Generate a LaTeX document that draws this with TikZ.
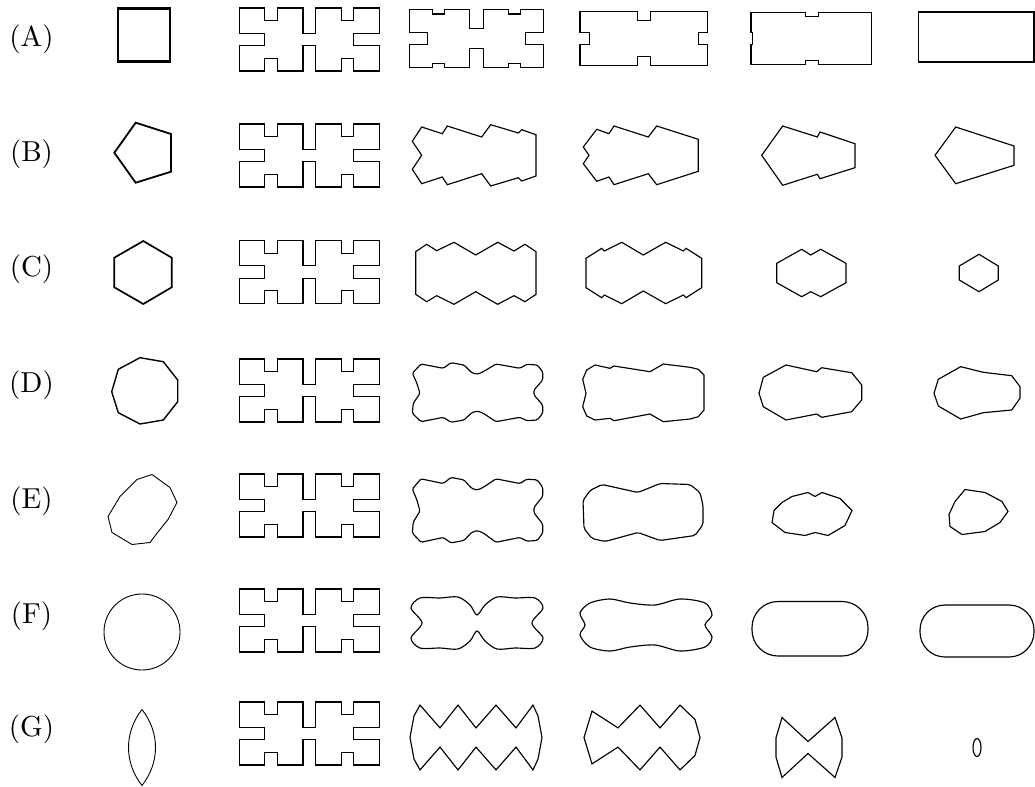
\documentclass[tikz,border=0pt]{standalone}
\begin{document}
\begin{tikzpicture}[
  x=1bp, y=-1bp,
  outline/.style={draw, line width=1.15bp},
  wulff/.style={draw, line width=#1},
  lbl/.style={scale=2.9, transform shape, inner sep=0pt},
  notched/.pic={
    \draw[outline, xscale=12.73, yscale=12.6] (0,0) -- (2,0) -- (2,1) -- (3,1) -- (3,0) -- (5,0) -- (5,2) -- (6,2) -- (6,0) -- (8,0) -- (8,1) -- (9,1) -- (9,0) -- (11,0) -- (11,2) -- (9,2) -- (9,3) -- (11,3) -- (11,5) -- (9,5) -- (9,4) -- (8,4) -- (8,5) -- (6,5) -- (6,3) -- (5,3) -- (5,5) -- (3,5) -- (3,4) -- (2,4) -- (2,5) -- (0,5) -- (0,3) -- (2,3) -- (2,2) -- (0,2) -- cycle;
  }
]
\useasboundingbox (0,0) rectangle (1035,787);

\node[lbl] (labA) at (31.5,39) {(A)};
\node[lbl] (labB) at (31.5,154) {(B)};
\node[lbl] (labC) at (31.5,269) {(C)};
\node[lbl] (labD) at (31.5,385) {(D)};
\node[lbl] (labE) at (31.5,501) {(E)};
\node[lbl] (labF) at (31.5,616) {(F)};
\node[lbl] (labG) at (31.5,729) {(G)};

\pic at (239.3,8) {notched};
\pic at (239.3,124) {notched};
\pic at (239.3,240.5) {notched};
\pic at (239.3,359) {notched};
\pic at (239.3,474) {notched};
\pic at (239.3,589) {notched};
\pic at (239.3,702) {notched};

% row A
\draw[wulff=2.3bp] (117.7,8.5) rectangle (170,61.5);
\begin{scope}[shift={(0,4)}]
\draw[outline] (409.3,5.7) -- (432.3,5.7) -- (432.3,10) -- (444.3,10) -- (444.3,5.7) -- (469.3,5.7) -- (469.3,24.2) -- (483.3,24.2) -- (483.3,5.7) -- (508.3,5.7) -- (508.3,10) -- (520.3,10) -- (520.3,5.7) -- (543.3,5.7) -- (543.3,28.2) -- (525.3,28.2) -- (525.3,40.9) -- (543.3,40.9) -- (543.3,63.4) -- (520.3,63.4) -- (520.3,59.1) -- (508.3,59.1) -- (508.3,63.4) -- (483.3,63.4) -- (483.3,44.9) -- (469.3,44.9) -- (469.3,63.4) -- (444.3,63.4) -- (444.3,59.1) -- (432.3,59.1) -- (432.3,63.4) -- (409.3,63.4) -- (409.3,40.9) -- (427.3,40.9) -- (427.3,28.2) -- (409.3,28.2) -- cycle;
\draw[outline] (580,7.3) -- (637.5,7.3) -- (637.5,16.7) -- (650.2,16.7) -- (650.2,7.3) -- (707.7,7.3) -- (707.7,28.5) -- (698.3,28.5) -- (698.3,40.5) -- (707.7,40.5) -- (707.7,61.7) -- (650.2,61.7) -- (650.2,52.3) -- (637.5,52.3) -- (637.5,61.7) -- (580,61.7) -- (580,40.5) -- (589.4,40.5) -- (589.4,28.5) -- (580,28.5) -- cycle;
\draw[outline] (751,8.3) -- (805.7,8.3) -- (805.7,12.7) -- (818.3,12.7) -- (818.3,8.3) -- (871.7,8.3) -- (871.7,60.7) -- (818.3,60.7) -- (818.3,56.3) -- (805.7,56.3) -- (805.7,60.7) -- (751,60.7) -- (751,40.5) -- (752.7,40.5) -- (752.7,28.5) -- (751,28.5) -- cycle;
\draw[outline] (918.3,8) rectangle (1034,58);
\end{scope}

% row B
\draw[wulff=1.8bp] (135.7,122.7) -- (171,134) -- (171,171.7) -- (135.7,182.7) -- (114.3,152.7) -- cycle;
\begin{scope}[shift={(0,2)}]
\draw[outline] (421.7,125) -- (442.3,131.7) -- (447.3,124) -- (481.7,135) -- (490.7,122.7) -- (518.3,131) -- (521.7,127.7) -- (536,132.7) -- (536,174) -- (521.7,179) -- (518.3,175.7) -- (490.7,184) -- (481.7,171.7) -- (447.3,182.7) -- (442.3,175) -- (421.7,181.7) -- (412.3,167.3) -- (421.7,153.3) -- (412.3,139.3) -- cycle;
\draw[outline] (596.7,127.3) -- (609,131.7) -- (614,124) -- (648.3,135) -- (656.7,124) -- (698.3,137.3) -- (698.3,169.3) -- (656.7,182.7) -- (648.3,171.7) -- (614,182.7) -- (609,175) -- (596.7,179.3) -- (583.3,161.7) -- (589,153.3) -- (583.3,145) -- cycle;
\draw[outline] (782.7,124) -- (817.3,135) -- (820,130) -- (855,141.7) -- (855,165.7) -- (820,176.7) -- (817.3,172.3) -- (782.7,183.3) -- (761.7,153.3) -- cycle;
\draw[outline] (955.7,125) -- (1014,144) -- (1014,163.3) -- (955.7,181.7) -- (935,153.3) -- cycle;
\end{scope}

% row C
\draw[wulff=1.7bp] (143.3,241) -- (171.7,257.7) -- (171.7,287.3) -- (143.3,304) -- (114.3,287.3) -- (114.3,257.7) -- cycle;
\draw[outline] (415.7,251.7) -- (426.7,244.3) -- (436.7,250.7) -- (454,242.3) -- (475.7,255) -- (497.7,242.3) -- (514,251) -- (525,244.3) -- (536,251.7) -- (536,294.3) -- (525,301.7) -- (514,295.7) -- (497.7,304.3) -- (475.7,291.7) -- (454,304.3) -- (436.7,295.7) -- (426.7,301.7) -- (415.7,294.3) -- cycle;
\draw[outline] (586,258.3) -- (601.7,248.3) -- (604.3,251) -- (621.7,242.3) -- (643.3,255) -- (665.7,242.3) -- (683.4,251) -- (686,248.3) -- (701.7,258.3) -- (701.7,287.7) -- (686,297.7) -- (683.4,295) -- (665.7,303.7) -- (643.3,291) -- (621.7,303.7) -- (604.3,295) -- (601.7,297.7) -- (586,287.7) -- cycle;
\draw[outline] (776.7,263.3) -- (801.7,249.3) -- (810.7,255) -- (820.7,249.3) -- (846,263.3) -- (846,282.7) -- (820.7,296.7) -- (810.7,291.7) -- (801.7,296.7) -- (776.7,282.7) -- cycle;
\draw[outline] (979,254.3) -- (998.3,266) -- (998.3,280) -- (979,291.7) -- (959.3,280) -- (959.3,266) -- cycle;

% row D
\draw[wulff=1.4bp] (140,357.7) -- (163.3,361.7) -- (177.7,380) -- (177.7,401.7) -- (163.3,420) -- (140,424) -- (118.3,412.7) -- (111.7,391.7) -- (118.3,369.3) -- cycle;
\draw[outline, rounded corners=1.5bp] (421,364) -- (443.3,368.3) -- (451,362.7) -- (464,365) -- (471.7,372.7) -- (477.3,374.3) -- (483.3,371.7) -- (496,364) -- (520,368.3) -- (526.7,364.3) -- (537.3,365) -- (542.7,371.7) -- (542.7,380) -- (534,390) -- (534,395) -- (542.7,405) -- (542.7,413.3) -- (537.3,420) -- (526.7,420.7) -- (520,417.3) -- (496,421.7) -- (483.3,413.3) -- (477.3,411) -- (471.7,412.7) -- (464,420) -- (451,422.3) -- (443.3,417.3) -- (421,421.7) -- (412.3,413.3) -- (413.3,403.3) -- (420,393.3) -- (416.7,382.7) -- (412.3,373.3) -- cycle;
\draw[outline] (586.7,370) -- (595,365) -- (610,368.3) -- (614,366) -- (650,371.7) -- (663.3,364) -- (690,367.3) -- (698.3,369.3) -- (704,375) -- (704,410) -- (698.3,416.7) -- (690,419) -- (663.3,421.7) -- (650,414) -- (614,420.7) -- (610,418.3) -- (595,420) -- (586.7,416) -- (582.7,406.7) -- (586,393.3) -- (582.7,379.3) -- cycle;
\draw[outline] (786,365) -- (816.7,371.7) -- (821.7,367.7) -- (851.7,372.7) -- (861.7,385) -- (861.7,400) -- (851.7,411.7) -- (821.7,417.3) -- (816.7,414) -- (786,420) -- (763.3,406.7) -- (759,393.3) -- (763.3,377.3) -- cycle;
\draw[outline] (960.7,366.7) -- (983.3,372.3) -- (1011.7,375.7) -- (1020,386.7) -- (1020,398.3) -- (1011.7,410) -- (983.3,412.7) -- (960.7,419) -- (938.3,406) -- (934,393.3) -- (938.3,379.3) -- cycle;

% row E
\begin{scope}[shift={(0,510.5)}]
\draw[wulff=0.9bp, shift={(0,-6)}] (152,-30) -- (170,-17) -- (177,-2) -- (168,15) -- (156,30) -- (150,38) -- (132,40) -- (112,28) -- (108,12) -- (120,-8) -- (137,-25) -- cycle;
\draw[outline, rounded corners=1.5bp, yscale=1.1] (421,-28.8) -- (443.3,-24.5) -- (451,-30.1) -- (464,-27.8) -- (471.7,-20.1) -- (477.3,-18.5) -- (483.3,-21.1) -- (496,-28.8) -- (520,-24.5) -- (526.7,-28.5) -- (537.3,-27.8) -- (542.7,-21.1) -- (542.7,-12.8) -- (534,-2.8) -- (534,2.2) -- (542.7,12.2) -- (542.7,20.5) -- (537.3,27.2) -- (526.7,27.9) -- (520,24.5) -- (496,28.9) -- (483.3,20.5) -- (477.3,18.2) -- (471.7,19.9) -- (464,27.2) -- (451,29.5) -- (443.3,24.5) -- (421,28.9) -- (412.3,20.5) -- (413.3,10.5) -- (420,0.5) -- (416.7,-10.1) -- (412.3,-19.5) -- cycle;
\draw[outline, rounded corners=2bp] (583,-10) -- (590,-20) -- (602,-26) -- (638,-18) -- (660,-27) -- (690,-26) -- (700,-18) -- (703,-5) -- (703,14) -- (695,25) -- (660,30) -- (638,22) -- (605,31) -- (592,28) -- (584,18) -- cycle;
\draw[outline] (792,-14) -- (808,-18) -- (815,-14) -- (822,-18) -- (840,-12) -- (852,0) -- (845,15) -- (828,25) -- (815,22) -- (805,25) -- (785,22) -- (772,12) -- (774,0) -- (782,-8) -- cycle;
\draw[outline, shift={(0,-4)}] (965,-17) -- (985,-14) -- (1002,-5) -- (1008,5) -- (1000,16) -- (985,25) -- (962,28) -- (950,20) -- (949,8) -- (955,-5) -- cycle;
\end{scope}

% row F
\begin{scope}[shift={(0,629)}]
\draw[wulff=0.9bp] (142,3) circle[radius=38];
\draw[outline, shift={(0,-6)}] plot[smooth cycle, tension=0.5] coordinates {(420,-25) (440,-25) (458,-26) (470,-18) (477,-8) (485,-18) (497,-26) (515,-25) (535,-25) (543,-15) (532,0) (543,15) (535,25) (515,25) (497,26) (485,18) (477,8) (470,18) (458,26) (440,25) (420,25) (411,15) (422,0) (411,-15)};
\draw[outline, shift={(0,-4)}] plot[smooth cycle, tension=0.5] coordinates {(590,-22) (610,-26) (630,-22) (655,-20) (680,-26) (705,-22) (712,-10) (705,0) (712,12) (705,22) (680,26) (655,20) (630,22) (610,26) (590,22) (580,10) (585,0) (580,-12)};
\draw[outline, rounded corners=26bp] (752,-27.5) rectangle (868,27);
\draw[outline, rounded corners=25bp] (920,-24) rectangle (1034,28);
\end{scope}

% row G
\begin{scope}[shift={(0,747.5)}]
\draw[wulff=0.9bp] (142,-38) .. controls (124,-15) and (124,15) .. (142,38) .. controls (160,15) and (160,-15) .. (142,-38);
\draw[outline, shift={(0,-10)}, yscale=1.2] (420,-27) -- (440,-8) -- (458,-27) -- (476,-8) -- (496,-27) -- (516,-8) -- (533,-27) -- (538,-18) -- (542,0) -- (538,18) -- (533,27) -- (516,8) -- (496,27) -- (476,8) -- (458,27) -- (440,8) -- (420,27) -- (414,18) -- (410,0) -- (414,-18) -- cycle;
\draw[outline, shift={(0,-10)}, yscale=1.2] (592,-22) -- (618,-8) -- (640,-27) -- (660,-8) -- (680,-27) -- (695,-15) -- (700,0) -- (695,15) -- (680,27) -- (660,8) -- (640,27) -- (618,8) -- (592,22) -- (584,0) -- cycle;
\draw[outline, yscale=1.2] (782,-25) -- (808,-5) -- (835,-25) -- (842,-8) -- (842,8) -- (835,25) -- (808,5) -- (782,25) -- (776,8) -- (776,-8) -- cycle;
\draw[outline] (977,0) ellipse[x radius=4, y radius=9];
\end{scope}
\end{tikzpicture}
\end{document}
